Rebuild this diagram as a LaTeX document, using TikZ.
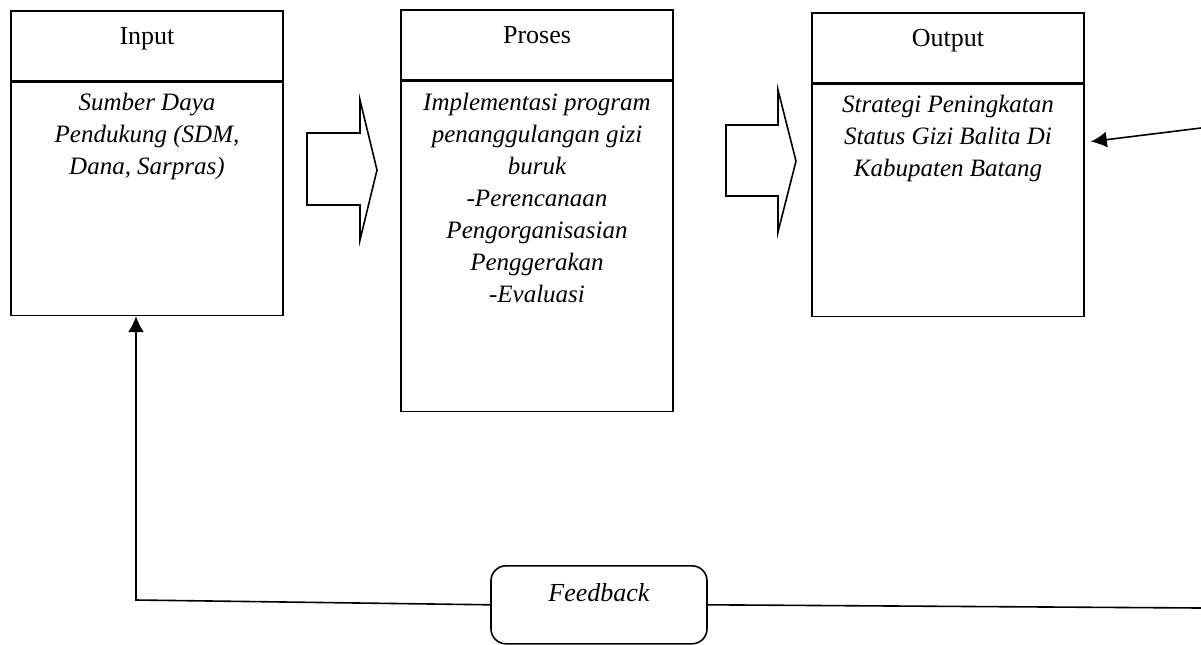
\documentclass[tikz,border=0pt]{standalone}
\usepackage{fontspec}
\setmainfont{Liberation Serif}
\usetikzlibrary{arrows.meta,positioning}

\begin{document}
\begin{tikzpicture}[x=0.5pt,y=-0.5pt,line width=0.8pt,
      head/.style={draw,inner sep=0pt,minimum width=136pt,text height=17pt,
        text depth=18pt,font=\fontsize{13}{15}\selectfont},
      body/.style={draw,inner sep=0pt,text width=136pt,align=flush center,
        font=\fontsize{12.5}{16}\selectfont\itshape},
      link/.style={-{Latex[length=8pt,width=8pt]}}] % input - proses - output
  \useasboundingbox (0,0) rectangle (1201,644);
  \node[head,anchor=north] (inhd) at (147,10) {Input};
  \node[body,below=0pt of inhd,text height=14pt,text depth=102.5pt] (inbd)
    {Sumber Daya\\ Pendukung (SDM,\\ Dana, Sarpras)};
  \node[head,anchor=north] (prhd) at (537,9) {Proses};
  \node[body,below=0pt of prhd,text height=14.5pt,text depth=150.5pt] (prbd)
    {Implementasi program\\ penanggulangan gizi\\ buruk\\ -Perencanaan\\
     Pengorganisasian\\ Penggerakan\\ -Evaluasi};
  \node[head,anchor=north] (outhd) at (948,12) {Output};
  \node[body,below=0pt of outhd,text height=14pt,text depth=102pt] (outbd)
    {Strategi Peningkatan\\ Status Gizi Balita Di\\ Kabupaten Batang};
  % block arrows
  \draw (307,133) -- (360,133) -- (360,100) -- (377,170) -- (360,240)
    -- (360,205) -- (307,205) -- cycle;
  \draw (726,125) -- (778,125) -- (778,90) -- (796,161) -- (778,232)
    -- (778,196) -- (726,196) -- cycle;
  % feedback
  \node[draw,rounded corners=7.5pt,inner sep=0pt,minimum width=108pt,
    text height=18pt,text depth=21pt,anchor=north,
    font=\fontsize{13}{15}\selectfont\itshape] (fb) at (599,565) {Feedback};
  \coordinate (fbl) at (136,600);
  \coordinate (fbr) at (1201,608);
  \coordinate (outsrc) at (1201,128);
  \draw[link] (fb.west) -- (fbl) -- (fbl |- inbd.south);
  \draw (fb.east) -- (fbr);
  \draw[link] (outsrc) -- ([shift={(3pt,-29pt)}]outbd.north east);
\end{tikzpicture}
\end{document}
